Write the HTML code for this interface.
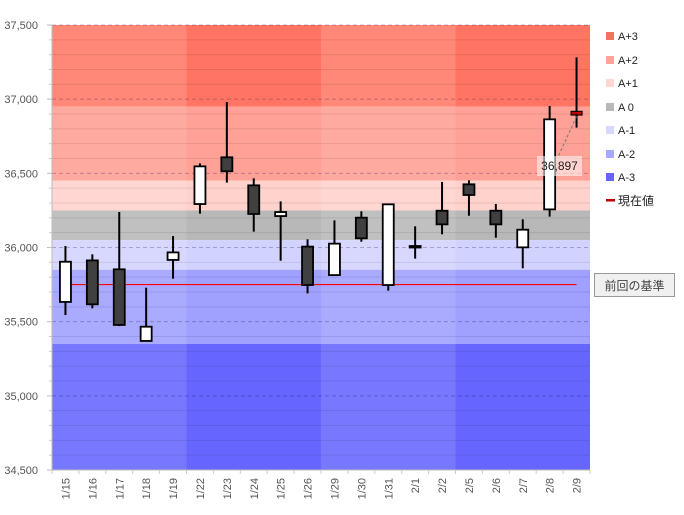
<!DOCTYPE html>
<html><head><meta charset="utf-8"><style>
body{margin:0;background:#fff;width:684px;height:515px;overflow:hidden;font-family:"Liberation Sans","Noto Sans CJK JP",sans-serif}
</style></head><body>
<svg id="chart" width="684" height="515" xmlns="http://www.w3.org/2000/svg" style="position:absolute;left:0;top:0"></svg>
<script>
const categories=["1/15","1/16","1/17","1/18","1/19","1/22","1/23","1/24","1/25","1/26","1/29","1/30","1/31","2/1","2/2","2/5","2/6","2/7","2/8","2/9"];
const openVals =[35633,35913,35853,35370,35916,36293,36608,36419,36212,36006,35814,36201,35747,36010,36248,36426,36248,36001,36257,36918];
const highVals =[36010,35954,36239,35729,36077,36567,36981,36466,36311,36055,36183,36244,36291,36143,36442,36453,36293,36190,36954,37282];
const lowVals  =[35545,35590,35470,35370,35790,36228,36437,36107,35911,35691,35814,36039,35709,35925,36089,36214,36066,35860,36208,36808];
const closeVals=[35904,35617,35478,35466,35967,36547,36514,36226,36239,35747,36026,36062,36291,36010,36156,36354,36156,36120,36864,36893];
const bandNames=["A+3","A+2","A+1","A 0","A-1","A-2","A-3"];
const bandTops=[37500,36950,36450,36250,36050,35850,35350];
const bandBottoms=[36950,36450,36250,36050,35850,35350,34500];
const bandLight=["#ff8878","#ffaaa0","#ffd6d2","#c0c0c0","#d8d8ff","#aaaaff","#7878ff"];
const bandDark=["#ff7462","#ffa196","#ffd2cc","#b8b8b8","#d2d2fe","#a0a0ff","#6666ff"];
const legendColors=["#f47060","#ffa298","#ffd6d2","#b8b8b8","#d8d8ff","#a8a8ff","#6666ff"];
const yTicks=[34500,35000,35500,36000,36500,37000,37500];
const weekStarts=[0,5,10,15];
const weekLens=[5,5,5,5];
const prevBase=35750;
const currentVal=36897;

const NS="http://www.w3.org/2000/svg";
const svg=document.getElementById('chart');
const L=52,R=590,T=25,B=470,yMin=34500,yMax=37500;
const step=(R-L)/categories.length;
const y=v=>T+(yMax-v)*(B-T)/(yMax-yMin);
const xc=i=>L+step*(i+0.5);
function el(tag,attrs,parent){const e=document.createElementNS(NS,tag);for(const k in attrs)e.setAttribute(k,attrs[k]);(parent||svg).appendChild(e);return e;}

for(let b=0;b<bandNames.length;b++){
  for(let w=0;w<weekStarts.length;w++){
    const r=el('rect',{x:L+weekStarts[w]*step,y:y(bandTops[b]),width:weekLens[w]*step,height:y(bandBottoms[b])-y(bandTops[b]),fill:w%2?bandDark[b]:bandLight[b]});
    
    
  }
}
for(let v=yMin+100;v<yMax;v+=100){
  if(v%500===0)continue;
  const g=el('line',{x1:L,x2:R,y1:y(v),y2:y(v),stroke:'rgba(0,0,0,0.09)','stroke-width':1});
  
  
}
yTicks.forEach(v=>{
  const g=el('line',{x1:L,x2:R,y1:y(v),y2:y(v),stroke:'rgba(0,0,80,0.25)','stroke-width':1,'stroke-dasharray':'4,3'});
  
  
  const t=el('text',{x:38,y:y(v)+4,'text-anchor':'end','font-size':11,fill:'#555'});
  t.textContent=v.toLocaleString('en-US');
  
  
  const tk=el('line',{x1:47,x2:52,y1:y(v),y2:y(v),stroke:'#bbb'});
  
  
});
for(let v=yMin+100;v<yMax;v+=100){
  const tk=el('line',{x1:49,x2:52,y1:y(v),y2:y(v),stroke:'#ccc'});
  
  
}
const ya=el('line',{x1:L,x2:L,y1:T,y2:B,stroke:'#bbb'});


const xa=el('line',{x1:L,x2:R,y1:B,y2:B,stroke:'#bbb'});


categories.forEach((c,i)=>{
  const tk=el('line',{x1:L+step*i,x2:L+step*i,y1:B,y2:B+4,stroke:'#ccc'});
  
  
  const t=el('text',{x:0,y:0,'text-anchor':'end','font-size':11,fill:'#555',transform:`translate(${xc(i)+4},${B+8}) rotate(-90)`});
  t.textContent=c;
  
  
});
const tkEnd=el('line',{x1:R,x2:R,y1:B,y2:B+4,stroke:'#ccc'});



const pb=el('line',{x1:xc(0),x2:xc(categories.length-1),y1:y(prevBase),y2:y(prevBase),stroke:'#ff0000','stroke-width':1.2});



const bw=11;
categories.forEach((c,i)=>{
  const x=xc(i),o=openVals[i],cl=closeVals[i];
  const w=el('line',{x1:x,x2:x,y1:y(highVals[i]),y2:y(lowVals[i]),stroke:'#000','stroke-width':2});
  
  
  const top=y(Math.max(o,cl)),bot=y(Math.min(o,cl));
  const last=i===categories.length-1;
  const fill=last?'#c00000':(cl>=o?'#ffffff':'#404040');
  const r=el('rect',{x:x-bw/2,y:top,width:bw,height:Math.max(bot-top,1.5),fill:fill,stroke:'#000','stroke-width':last?1.1:1.8});
  
  
});

const lx=xc(categories.length-1);
const dl=el('line',{x1:lx,y1:y(currentVal)+2,x2:558,y2:157,stroke:'#777','stroke-width':1,'stroke-dasharray':'3,2'});


const lb=el('rect',{x:537,y:156,width:45,height:20,fill:'rgba(255,255,255,0.55)'});


const lt=el('text',{x:559.5,y:170,'text-anchor':'middle','font-size':12,fill:'#222'});
lt.textContent=currentVal.toLocaleString('en-US');



const legY=[36,60,83,107,130,154,177];
bandNames.forEach((n,i)=>{
  const s=el('rect',{x:606,y:legY[i]-4,width:8,height:8,fill:legendColors[i]});
  
  
  const t=el('text',{x:618,y:legY[i]+4,'font-size':11,fill:'#222'});
  t.textContent=n;
  
  
});
const ls=el('rect',{x:606,y:199,width:9,height:2.5,fill:'#c00000'});


const lct=el('text',{x:618,y:205,'font-size':12,fill:'#222'});
lct.textContent='現在値';



const bb=el('rect',{x:594.5,y:273.5,width:80,height:23,fill:'#f0f0f0',stroke:'#999'});


const bt=el('text',{x:634.5,y:290,'text-anchor':'middle','font-size':12,fill:'#444'});
bt.textContent='前回の基準';


</script>
</body></html>
